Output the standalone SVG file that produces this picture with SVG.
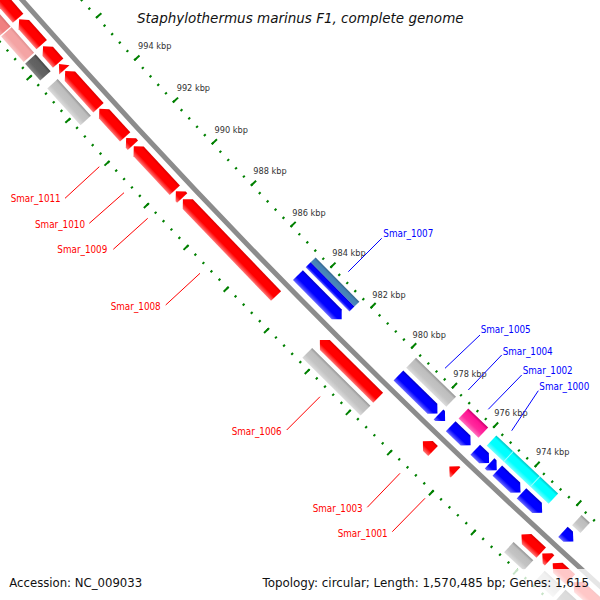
<svg xmlns="http://www.w3.org/2000/svg" width="600" height="600" viewBox="0 0 600 600">
<style>
.kb{font-family:"DejaVu Sans",sans-serif;font-size:8.2px;fill:#333}
.lr,.lb{font-family:"DejaVu Sans Condensed","DejaVu Sans",sans-serif;font-stretch:condensed;font-size:9.8px}
.lr{fill:#f00}
.lb{fill:#00f}
.llr{stroke:#f00;stroke-width:1;fill:none}
.llb{stroke:#00f;stroke-width:1;fill:none}
.ft{font-family:"DejaVu Sans",sans-serif;fill:#111}
</style>
<defs>
<linearGradient id="gRed" x1="0" y1="0" x2="1" y2="0"><stop offset="0" stop-color="#dc0000"/><stop offset="0.2" stop-color="#ff0000"/><stop offset="0.65" stop-color="#ff0000"/><stop offset="1" stop-color="#ff7878"/></linearGradient>
<linearGradient id="gBlue" x1="0" y1="0" x2="1" y2="0"><stop offset="0" stop-color="#0000c8"/><stop offset="0.2" stop-color="#0000ff"/><stop offset="0.65" stop-color="#0000ff"/><stop offset="1" stop-color="#6a6aff"/></linearGradient>
<linearGradient id="gGray" x1="0" y1="0" x2="1" y2="0"><stop offset="0" stop-color="#959595"/><stop offset="0.2" stop-color="#bdbdbd"/><stop offset="0.65" stop-color="#c4c4c4"/><stop offset="1" stop-color="#dcdcdc"/></linearGradient>
<linearGradient id="gDark" x1="0" y1="0" x2="1" y2="0"><stop offset="0" stop-color="#454545"/><stop offset="0.2" stop-color="#5f5f5f"/><stop offset="0.65" stop-color="#646464"/><stop offset="1" stop-color="#858585"/></linearGradient>
<linearGradient id="gPink1" x1="0" y1="0" x2="1" y2="0"><stop offset="0" stop-color="#d87070"/><stop offset="0.2" stop-color="#f08080"/><stop offset="0.65" stop-color="#f08080"/><stop offset="1" stop-color="#f6a8a8"/></linearGradient>
<linearGradient id="gPink2" x1="0" y1="0" x2="1" y2="0"><stop offset="0" stop-color="#e09090"/><stop offset="0.2" stop-color="#f4a4a4"/><stop offset="0.65" stop-color="#f4a4a4"/><stop offset="1" stop-color="#f8c4c4"/></linearGradient>
<linearGradient id="gDeep" x1="0" y1="0" x2="1" y2="0"><stop offset="0" stop-color="#c8006e"/><stop offset="0.2" stop-color="#ff1493"/><stop offset="0.65" stop-color="#ff2a9d"/><stop offset="1" stop-color="#ff70be"/></linearGradient>
<linearGradient id="gCyan" x1="0" y1="0" x2="1" y2="0"><stop offset="0" stop-color="#00c4c4"/><stop offset="0.2" stop-color="#00ffff"/><stop offset="0.65" stop-color="#00ffff"/><stop offset="1" stop-color="#70ffff"/></linearGradient>
<linearGradient id="gSteel" x1="0" y1="0" x2="1" y2="0"><stop offset="0" stop-color="#35648c"/><stop offset="0.35" stop-color="#4682b4"/><stop offset="1" stop-color="#4a88bb"/></linearGradient>
</defs>

<!-- rulers -->
<g id="rulers" fill="none" stroke="#008000">
<g transform="translate(5413,-4738) rotate(131.3116)">
<path d="M7132.5,0 A7132.5,7132.5 0 0 1 -7132.5,0 A7132.5,7132.5 0 0 1 7132.5,0" stroke-width="2.5" stroke-dasharray="2 9.41428" stroke-dashoffset="1"/>
<path d="M7130,0 A7130,7130 0 0 1 -7130,0 A7130,7130 0 0 1 7130,0" stroke-width="7" stroke-dasharray="2 55.0514" stroke-dashoffset="1"/>
<path d="M7221.5,0 A7221.5,7221.5 0 0 1 -7221.5,0 A7221.5,7221.5 0 0 1 7221.5,0" stroke-width="2.5" stroke-dasharray="2 9.55671" stroke-dashoffset="1"/>
<path d="M7223.5,0 A7223.5,7223.5 0 0 1 -7223.5,0 A7223.5,7223.5 0 0 1 7223.5,0" stroke-width="7" stroke-dasharray="2 55.7996" stroke-dashoffset="1"/>
</g>
</g>

<!-- backbone -->
<circle id="backbone" cx="5413" cy="-4738" r="7177" fill="none" stroke="#8c8c8c" stroke-width="5"/>

<g id="features" transform="translate(5413,-4738)">
<!-- forward strand (red) -->
<g fill="url(#gRed)">
<g id="f_r1" transform="rotate(138.983) translate(7192,0)"><polygon points="-7,-48.09 7,-48.09 7,41.09 0,48.09 -7,41.09"/></g>
<g id="f_r2" transform="rotate(138.453) translate(7192,0)"><polygon points="-7,-16.97 7,-16.97 7,9.97 0,16.97 -7,9.97"/></g>
<g id="f_r3" transform="rotate(138.211) translate(7192,0)"><polygon points="-7,-11.32 7,-11.32 7,4.32 0,11.32 -7,4.32"/></g>
<g id="f_r4" transform="rotate(138.079) translate(7192,0)"><polygon points="-7,-3.89 7,-3.89 0,3.89"/></g>
<g id="f_r5" transform="rotate(137.839) translate(7192,0)"><polygon points="-7,-24.75 7,-24.75 7,17.75 0,24.75 -7,17.75"/></g>
<g id="f_r6" transform="rotate(137.479) translate(7192,0)"><polygon points="-7,-19.09 7,-19.09 7,12.09 0,19.09 -7,12.09"/></g>
<g id="Smar_1011" transform="rotate(137.276) translate(7192,0)"><polygon points="-7,-4.95 7,-4.95 7,-2.05 0,4.95 -7,-2.05"/></g>
<g id="Smar_1010" transform="rotate(136.986) translate(7192,0)"><polygon points="-7,-30.05 7,-30.05 7,23.05 0,30.05 -7,23.05"/></g>
<g id="Smar_1009" transform="rotate(136.698) translate(7192,0)"><polygon points="-7,-4.6 7,-4.6 7,-2.4 0,4.6 -7,-2.4"/></g>
<g id="Smar_1008" transform="rotate(136.115) translate(7192,0)"><polygon points="-7,-67.18 7,-67.18 7,60.18 0,67.18 -7,60.18"/></g>
<g id="Smar_1006" transform="rotate(134.758) translate(7192,0)"><polygon points="-7,-41.01 7,-41.01 7,34.01 0,41.01 -7,34.01"/></g>
<g id="Smar_1003" transform="rotate(133.879) translate(7192,0)"><polygon points="-7,-7.07 7,-7.07 7,0.07 0,7.07 -7,0.07"/></g>
<g id="Smar_1001" transform="rotate(133.609) translate(7192,0)"><polygon points="-7,-4.25 7,-4.25 7,-2.75 0,4.25 -7,-2.75"/></g>
<g id="f_r14" transform="rotate(132.747) translate(7192,0)"><polygon points="-7,-13.44 7,-13.44 7,6.44 0,13.44 -7,6.44"/></g>
<g id="f_r15" transform="rotate(132.589) translate(7192,0)"><polygon points="-7,-4.95 7,-4.95 7,-2.05 0,4.95 -7,-2.05"/></g>
<g id="f_r16" transform="rotate(132.420) translate(7192,0)"><polygon points="-7,-12.02 7,-12.02 7,5.02 0,12.02 -7,5.02"/></g>
<g id="f_r17" transform="rotate(132.138) translate(7192,0)"><polygon points="-7,-19.1 7,-19.1 7,12.1 0,19.1 -7,12.1"/></g>
</g>
<!-- forward COG track -->
<g id="c_p1" transform="rotate(138.973) translate(7210,0)"><rect x="-7" y="-48.09" width="14" height="96.17" fill="url(#gPink1)"/></g>
<g id="c_p2" transform="rotate(138.445) translate(7210,0)"><rect x="-7" y="-16.97" width="14" height="33.94" fill="url(#gPink2)"/></g>
<g id="c_d1" transform="rotate(138.203) translate(7210,0)"><rect x="-7" y="-11.32" width="14" height="22.63" fill="url(#gDark)"/></g>
<g id="c_g1" transform="rotate(137.832) translate(7210,0)"><rect x="-7" y="-24.75" width="14" height="49.5" fill="url(#gGray)"/></g>
<g id="c_1006" transform="rotate(134.758) translate(7210,0)"><rect x="-7" y="-41.01" width="14" height="82.02" fill="url(#gGray)"/></g>
<g id="c_g14" transform="rotate(132.752) translate(7210,0)"><rect x="-7" y="-13.44" width="14" height="26.87" fill="url(#gGray)"/></g>
<g id="c_g16" transform="rotate(132.4265) translate(7210,0)"><rect x="-7" y="-12.02" width="14" height="24.04" fill="url(#gGray)"/></g>
<g id="c_g17" transform="rotate(132.146) translate(7210,0)"><rect x="-7" y="-19.1" width="14" height="38.2" fill="url(#gDark)"/></g>

<!-- reverse strand (blue) -->
<g fill="url(#gBlue)">
<g id="Smar_1007" transform="rotate(135.328) translate(7162,0)"><polygon points="-7,31.12 7,31.12 7,-24.12 0,-31.12 -7,-24.12"/></g>
<g id="Smar_1005" transform="rotate(134.222) translate(7162,0)"><polygon points="-7,27.23 7,27.23 7,-20.23 0,-27.23 -7,-20.23"/></g>
<g id="Smar_1004" transform="rotate(133.956) translate(7162,0)"><polygon points="-7,4.6 7,4.6 7,2.4 0,-4.6 -7,2.4"/></g>
<g id="Smar_1002" transform="rotate(133.747) translate(7162,0)"><polygon points="-7,13.79 7,13.79 7,-6.79 0,-13.79 -7,-6.79"/></g>
<g id="Smar_1000" transform="rotate(133.509) translate(7162,0)"><polygon points="-7,9.55 7,9.55 7,-2.55 0,-9.55 -7,-2.55"/></g>
<g id="f_b6" transform="rotate(133.388) translate(7162,0)"><polygon points="-7,4.95 7,4.95 7,2.05 0,-4.95 -7,2.05"/></g>
<g id="f_b7" transform="rotate(133.215) translate(7162,0)"><polygon points="-7,15.91 7,15.91 7,-8.91 0,-15.91 -7,-8.91"/></g>
<g id="f_b8" transform="rotate(132.964) translate(7162,0)"><polygon points="-7,14.14 7,14.14 7,-7.14 0,-14.14 -7,-7.14"/></g>
<g id="f_b9" transform="rotate(132.568) translate(7162,0)"><polygon points="-7,7.07 7,7.07 7,-0.07 0,-7.07 -7,-0.07"/></g>
</g>
<!-- reverse COG track -->
<g id="c_1007" transform="rotate(135.329) translate(7144,0)"><rect x="-7" y="-31.12" width="7" height="62.23" fill="url(#gSteel)"/><rect x="0" y="-31.12" width="7" height="62.23" fill="url(#gBlue)"/></g>
<g id="c_1005" transform="rotate(134.215) translate(7144,0)"><rect x="-7" y="-27.93" width="14" height="55.86" fill="url(#gGray)"/></g>
<g id="c_1002" transform="rotate(133.744) translate(7144,0)"><rect x="-7" y="-13.79" width="14" height="27.58" fill="url(#gDeep)"/></g>
<g id="c_cyan" transform="rotate(133.202) translate(7144,0)"><rect x="-7" y="-42.43" width="14" height="84.85" fill="url(#gCyan)"/><path d="M-7,19.09 H7 M-7,-17.47 H7" stroke="#9ff" stroke-width="1"/></g>
<g id="c_a5" transform="rotate(132.561) translate(7144,0)"><rect x="-7" y="-5.66" width="14" height="11.31" fill="url(#gGray)"/></g>
</g>

<!-- ruler labels -->
<g id="kbp">
<text class="kb" x="138" y="49">994 kbp</text>
<text class="kb" x="176.7" y="91">992 kbp</text>
<text class="kb" x="214.5" y="132.5">990 kbp</text>
<text class="kb" x="253.3" y="174.3">988 kbp</text>
<text class="kb" x="292.3" y="215.5">986 kbp</text>
<text class="kb" x="332.3" y="256.3">984 kbp</text>
<text class="kb" x="372.3" y="297.7">982 kbp</text>
<text class="kb" x="412.5" y="338">980 kbp</text>
<text class="kb" x="453.3" y="377">978 kbp</text>
<text class="kb" x="494.3" y="416.3">976 kbp</text>
<text class="kb" x="536" y="455.3">974 kbp</text>
</g>

<!-- leader lines -->
<g id="connectors">
<line class="llr" x1="65" y1="198.3" x2="99.3" y2="166.7"/>
<line class="llr" x1="89.3" y1="223.3" x2="124" y2="192.7"/>
<line class="llr" x1="113.3" y1="249.3" x2="147.7" y2="218.3"/>
<line class="llr" x1="165.7" y1="305" x2="200" y2="273.3"/>
<line class="llr" x1="286.7" y1="430" x2="320" y2="396.7"/>
<line class="llr" x1="367.3" y1="507.3" x2="400" y2="473.3"/>
<line class="llr" x1="392.3" y1="531.7" x2="425" y2="498.3"/>
<line class="llb" x1="381.7" y1="238.3" x2="348.3" y2="271.7"/>
<line class="llb" x1="480" y1="335" x2="445" y2="368.3"/>
<line class="llb" x1="501.7" y1="355" x2="468.3" y2="390"/>
<line class="llb" x1="521.7" y1="375" x2="488.3" y2="409.3"/>
<line class="llb" x1="538.3" y1="390.7" x2="511.7" y2="430.7"/>
</g>

<g id="labels">
<text class="lr" x="10.7" y="201.7">Smar_1011</text>
<text class="lr" x="35" y="228.3">Smar_1010</text>
<text class="lr" x="57.3" y="253.3">Smar_1009</text>
<text class="lr" x="110.7" y="310">Smar_1008</text>
<text class="lr" x="231.7" y="435">Smar_1006</text>
<text class="lr" x="312.7" y="512.3">Smar_1003</text>
<text class="lr" x="337.7" y="536.7">Smar_1001</text>
<text class="lb" x="383.3" y="237.3">Smar_1007</text>
<text class="lb" x="480.7" y="333.3">Smar_1005</text>
<text class="lb" x="502.7" y="355.3">Smar_1004</text>
<text class="lb" x="522.7" y="374.3">Smar_1002</text>
<text class="lb" x="539.3" y="390">Smar_1000</text>
</g>

<rect x="256" y="569" width="344" height="31" fill="#fff" fill-opacity="0.78"/>
<text class="ft" x="137" y="23.3" font-size="13.5" font-style="italic" fill="#222">Staphylothermus marinus F1, complete genome</text>
<text class="ft" x="9.3" y="587.3" font-size="11.7">Accession: NC_009033</text>
<text class="ft" x="589" y="587" font-size="11.9" text-anchor="end">Topology: circular; Length: 1,570,485 bp; Genes: 1,615</text>
</svg>
